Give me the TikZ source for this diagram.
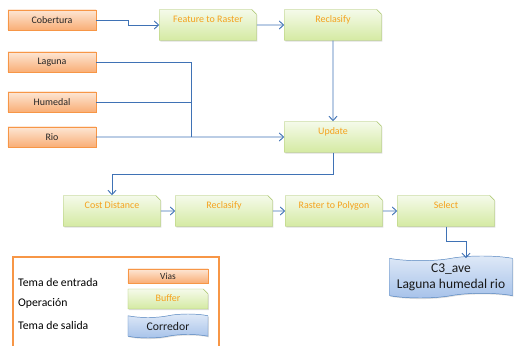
\documentclass[tikz,border=0pt]{standalone}
\usepackage{fontspec}
\setmainfont{Carlito}
\usetikzlibrary{arrows.meta,shapes.misc,shapes.symbols,shadows}
\definecolor{oc}{HTML}{F79646}
\definecolor{otop}{HTML}{FDE6D4}
\definecolor{obot}{HTML}{F9AE76}
\definecolor{gtop}{HTML}{F5FAEA}
\definecolor{gbot}{HTML}{D4EAA2}
\definecolor{gc}{HTML}{A6C266}
\definecolor{gt}{HTML}{F5A21E}
\definecolor{btop}{HTML}{DFE9F7}
\definecolor{bbot}{HTML}{A6C2EA}
\definecolor{bc}{HTML}{4F81BD}
\definecolor{wc}{HTML}{3F72B5}
\tikzset{sh/.style={drop shadow={shadow xshift=.7pt,shadow yshift=-.9pt,opacity=.25}},
 inp/.style={draw=oc,top color=otop,bottom color=obot,sh,minimum width=2.64cm,minimum height=6mm,
  inner sep=1pt,text=black!85,font=\fontsize{8.5}{10}\selectfont},
 op/.style={chamfered rectangle,chamfered rectangle corners=north east,chamfered rectangle xsep=2pt,
  chamfered rectangle ysep=2pt,draw=gc,top color=gtop,bottom color=gbot,sh,minimum width=2.91cm,
  minimum height=9.3mm,inner sep=1pt,text=gt,text height=6pt,text depth=10pt,font=\fontsize{8.5}{10}\selectfont},
 outp/.style={tape,tape bend height=4pt,draw=bc,top color=btop,bottom color=bbot,sh,align=center,
  minimum width=3.69cm,minimum height=12.6mm,inner sep=1pt,text=black!90,font=\fontsize{11.5}{14}\selectfont},
 lbl/.style={anchor=west,inner sep=0pt,font=\fontsize{10}{12}\selectfont},
 wire/.style={wc,line width=.8pt},arr/.style={wire,-{Straight Barb[length=1.3mm,width=2.4mm]}}}
\begin{document}
\begin{tikzpicture}[x=0.03cm,y=-0.03cm]
\useasboundingbox (0,0) rectangle (531,346);
\node[inp] (cob) at (52,20) {Cobertura};
\node[inp] (lag) at (52,62) {Laguna};
\node[inp] (hum) at (52,102) {Humedal};
\node[inp] (rio) at (52,137) {Rio};
\node[op] (ftr) at (208,25) {Feature to Raster};
\node[op] (rcl) at (333,25) {Reclasify};
\node[op] (upd) at (333,137) {Update};
\node[op] (cst) at (112,211) {Cost Distance};
\node[op] (rcl2) at (224,211) {Reclasify};
\node[op] (r2p) at (334,211) {Raster to Polygon};
\node[op] (sel) at (446,211) {Select};
\node[outp] (c3) at (451,277) {C3\_ave\\Laguna humedal rio};
\coordinate (jn) at (191,137);
\draw[arr] (cob.east) -- ++(32,0) |- (ftr.west);
\draw[arr] (ftr) -- (rcl);\draw[arr] (rcl) -- (upd);
\draw[wire] (lag.east) -| (jn);\draw[wire] (hum.east) -| (jn);
\draw[arr] (rio) -- (upd);
\draw[arr] (upd.south) -- ++(0,22) -| (cst.north);
\draw[arr] (cst) -- (rcl2);\draw[arr] (rcl2) -- (r2p);\draw[arr] (r2p) -- (sel);
\draw[arr] (sel.south) -- ++(0,15) -| ([xshift=4.5mm]c3.north);
% leyenda
\draw[oc,line width=1.2pt] (13,257) rectangle (219,352);
\node[lbl] (l1) at (18,282) {Tema de entrada};
\node[lbl] (l2) at (18,303) {Operación};
\node[lbl] (l3) at (18,325) {Tema de salida};
\node[inp,minimum width=2.4cm,minimum height=4.2mm,font=\fontsize{8}{9}\selectfont] (k1) at (168,276) {Vias};
\node[op,minimum width=2.4cm,minimum height=6mm,text depth=2pt] (k2) at (168,299) {Buffer};
\node[outp,tape bend height=3pt,minimum width=2.4cm,minimum height=7.2mm,font=\fontsize{10}{12}\selectfont] (k3) at (168,326) {Corredor};
\end{tikzpicture}
\end{document}
